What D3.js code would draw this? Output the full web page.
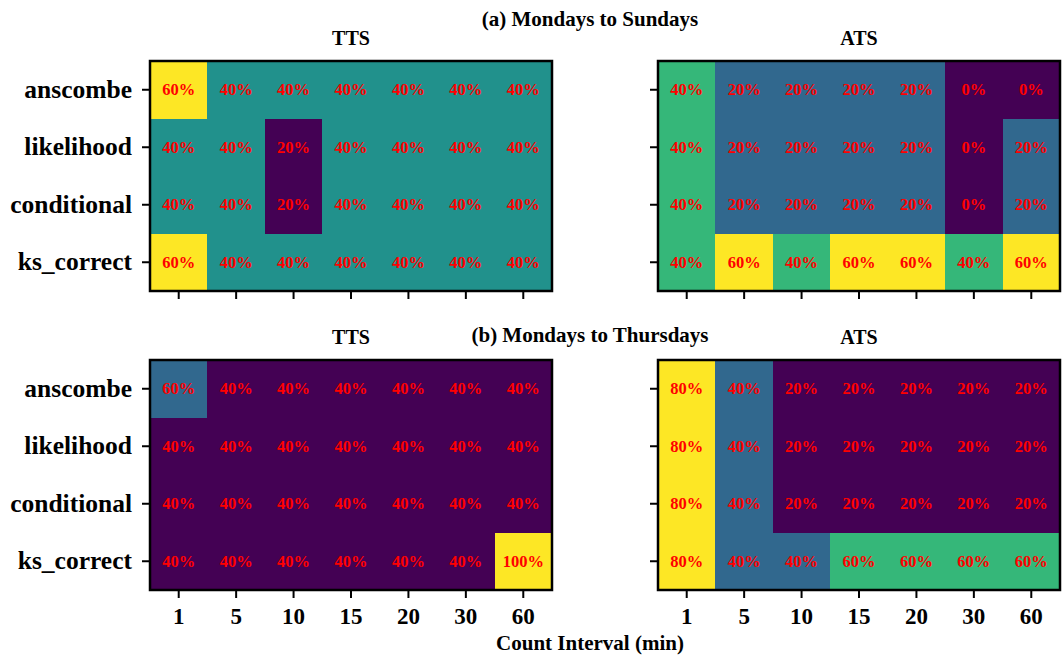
<!DOCTYPE html>
<html>
<head>
<meta charset="utf-8">
<script src="https://cdn.jsdelivr.net/npm/d3@7"></script>
<style>
  html, body { margin: 0; padding: 0; background: #fff; }
  svg text { font-family: "Liberation Serif", "Times New Roman", serif; font-weight: bold; }
</style>
</head>
<body>
<svg id="chart" width="1063" height="660"></svg>
<script>
// Methods (rows) and count intervals (columns)
const methods = ["anscombe", "likelihood", "conditional", "ks_correct"];
const intervals = ["1", "5", "10", "15", "20", "30", "60"];

// Share of days (%) per method and interval
const ttsWeek = [
  [60, 40, 40, 40, 40, 40, 40],
  [40, 40, 20, 40, 40, 40, 40],
  [40, 40, 20, 40, 40, 40, 40],
  [60, 40, 40, 40, 40, 40, 40]
];
const atsWeek = [
  [40, 20, 20, 20, 20, 0, 0],
  [40, 20, 20, 20, 20, 0, 20],
  [40, 20, 20, 20, 20, 0, 20],
  [40, 60, 40, 60, 60, 40, 60]
];
const ttsWeekday = [
  [60, 40, 40, 40, 40, 40, 40],
  [40, 40, 40, 40, 40, 40, 40],
  [40, 40, 40, 40, 40, 40, 40],
  [40, 40, 40, 40, 40, 40, 100]
];
const atsWeekday = [
  [80, 40, 20, 20, 20, 20, 20],
  [80, 40, 20, 20, 20, 20, 20],
  [80, 40, 20, 20, 20, 20, 20],
  [80, 40, 40, 60, 60, 60, 60]
];

const panelTitles = ["TTS", "ATS"];
const rowTitles = ["(a) Mondays to Sundays", "(b) Mondays to Thursdays"];
const xLabel = "Count Interval (min)";

const svg = d3.select("#chart");

const panelW = 402, panelH = 230;
const colX = [150, 658];
const rowY = [61, 360];

const panels = [
  { data: ttsWeek, col: 0, row: 0 },
  { data: atsWeek, col: 1, row: 0 },
  { data: ttsWeekday, col: 0, row: 1 },
  { data: atsWeekday, col: 1, row: 1 }
];

panels.forEach(p => {
  const x0 = colX[p.col], y0 = rowY[p.row];
  const g = svg.append("g").attr("transform", `translate(${x0},${y0})`);

  const x = d3.scaleBand().domain(intervals).range([0, panelW]).padding(0);
  const y = d3.scaleBand().domain(methods).range([0, panelH]).padding(0);

  const flat = p.data.flat();
  const color = d3.scaleSequential(d3.interpolateViridis).domain(d3.extent(flat));

  const cells = [];
  p.data.forEach((row, i) => row.forEach((v, j) => cells.push({ m: methods[i], c: intervals[j], v })));

  g.selectAll("rect.cell").data(cells).join("rect")
    .attr("class", "cell")
    .attr("x", d => x(d.c))
    .attr("y", d => y(d.m))
    .attr("width", x.bandwidth() + 1)
    .attr("height", y.bandwidth() + 1)
    .attr("shape-rendering", "crispEdges")
    .attr("fill", d => color(d.v));

  g.selectAll("text.val").data(cells).join("text")
    .attr("class", "val")
    .attr("x", d => x(d.c) + x.bandwidth() / 2)
    .attr("y", d => y(d.m) + y.bandwidth() / 2)
    .attr("text-anchor", "middle")
    .attr("dominant-baseline", "central")
    .attr("fill", "#ff0000")
    .style("font-size", "16.5px")
    .text(d => d.v + "%");

  // frame
  g.append("rect")
    .attr("width", panelW).attr("height", panelH)
    .attr("fill", "none").attr("stroke", "#000").attr("stroke-width", 2.5);

  // left axis (labels only on first column)
  const yAxis = d3.axisLeft(y).tickSize(7).tickPadding(10);
  if (p.col === 1) yAxis.tickFormat(() => "");
  const ya = g.append("g").attr("transform", "translate(-1,0)").call(yAxis);
  ya.select(".domain").remove();
  ya.selectAll("line").attr("stroke-width", 2);
  ya.selectAll("text").style("font-size", "25.5px").attr("fill", "#000");

  // bottom axis (labels only on bottom row)
  const xAxis = d3.axisBottom(x).tickSize(7).tickPadding(10);
  if (p.row === 0) xAxis.tickFormat(() => "");
  const xa = g.append("g").attr("transform", `translate(0,${panelH + 1})`).call(xAxis);
  xa.select(".domain").remove();
  xa.selectAll("line").attr("stroke-width", 2);
  xa.selectAll("text").style("font-size", "23px").attr("fill", "#000");

  // panel title
  svg.append("text")
    .attr("x", x0 + panelW / 2)
    .attr("y", y0 - 16)
    .attr("text-anchor", "middle")
    .style("font-size", "20px")
    .text(panelTitles[p.col]);
});

// row titles
svg.append("text").attr("x", 590).attr("y", 26).attr("text-anchor", "middle")
  .style("font-size", "21px").text(rowTitles[0]);
svg.append("text").attr("x", 590).attr("y", 342).attr("text-anchor", "middle")
  .style("font-size", "21px").text(rowTitles[1]);

// x axis label
svg.append("text").attr("x", 590).attr("y", 650).attr("text-anchor", "middle")
  .style("font-size", "21px").text(xLabel);
</script>
</body>
</html>
